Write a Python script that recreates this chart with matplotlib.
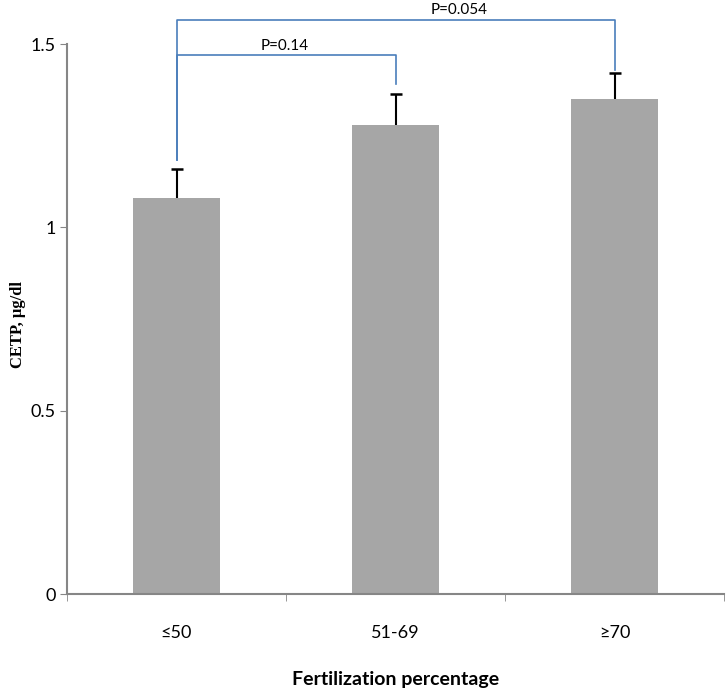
import matplotlib
matplotlib.use('Agg')
import matplotlib.pyplot as plt
import numpy as np

categories = ['≤50', '51-69', '≥70']
cetp = [1.08, 1.28, 1.35]
cetp_err = [0.08, 0.085, 0.07]
# bracket: from bar, to bar, level, left drop, right drop, text, text x
brackets = [(0, 1, 1.471, 1.185, 1.39, 'P=0.14', 0.495),
            (0, 2, 1.567, 1.185, 1.43, 'P=0.054', 1.29)]

plt.rcParams['font.family'] = ['Lato', 'DejaVu Sans']

fig = plt.figure(figsize=(7.26, 6.9), dpi=100)
ax = fig.add_axes([0.0923, 0.139, 0.905, 0.797])

x = np.arange(len(categories))
tops = np.array(cetp) + np.array(cetp_err)
ax.bar(x, cetp, width=0.4, color='#a6a6a6', zorder=2)
ax.vlines(x, cetp, tops, color='black', lw=1.5, zorder=3)
ax.plot(x, tops, ls='none', marker='_', ms=9, mew=1.8, color='black', zorder=3)

for i, j, lev, dl, dr, txt, tx in brackets:
    ax.plot([x[i], x[i], x[j], x[j]], [dl, lev, lev, dr], color='#4a7ebb',
            lw=1.2, clip_on=False, zorder=4)
    ax.text(tx, lev + 0.006, txt, ha='center', va='bottom', fontsize=11,
            clip_on=False)

ax.set_xlim(-0.5, 2.5)
ax.set_ylim(0, 1.5)
ax.set_yticks([0, 0.5, 1, 1.5])
ax.set_yticklabels(['0', '0.5', '1', '1.5'])
ax.set_xticks(x)
ax.set_xticklabels(categories)
ax.set_xticks([-0.5, 0.5, 1.5, 2.5], minor=True)
ax.tick_params(axis='x', which='major', length=0, pad=22, labelsize=13)
ax.tick_params(axis='x', which='minor', length=5, color='#868686')
ax.tick_params(axis='y', length=5, color='#868686', labelsize=13, pad=3)

for s in ['top', 'right']:
    ax.spines[s].set_visible(False)
for s in ['left', 'bottom']:
    ax.spines[s].set_color('#868686')
    ax.spines[s].set_linewidth(1.5)

ax.set_xlabel('Fertilization percentage', fontsize=14, fontweight='bold',
              labelpad=22)
ax.set_ylabel('CETP, µg/dl', fontsize=12, fontweight='bold',
              family=['Liberation Serif', 'DejaVu Serif'])
ax.yaxis.set_label_coords(-0.062, 0.49)

fig.savefig('out.png', dpi=100)
